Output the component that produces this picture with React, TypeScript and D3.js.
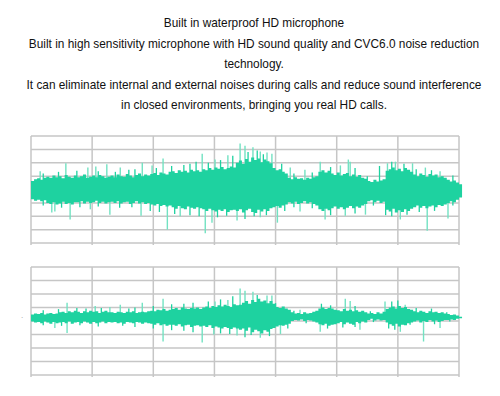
import React from 'react';
import * as d3 from 'd3';

const headline = [
  'Built in waterproof HD microphone',
  'Built in high sensitivity microphone with HD sound quality and CVC6.0 noise reduction',
  'technology.',
  'It can eliminate internal and external noises during calls and reduce sound interference',
  'in closed environments, bringing you real HD calls.',
];

// time axis: 7 grid columns, envelope bins of 0.05 column
const columns = [0, 1, 2, 3, 4, 5, 6, 7];
const levels = [-100, -75, -50, -25, 0, 25, 50, 75, 100];
const BIN = 0.05;

// top plot (before noise reduction) – dense core envelope, % of half height
const rawUpper = [
  16, 19, 21, 18, 22,
  24, 22, 26, 23, 25, 21, 27, 24, 22, 26,
  23, 25, 28, 22, 24, 26, 23, 27, 25, 22, 24,
  26, 23, 28, 25, 24, 29, 26, 23, 27, 30, 25, 28, 26,
  29, 31, 27, 32, 30, 28, 33,
  34, 31, 36, 33, 35, 32, 37, 34, 36, 33,
  38, 36, 40, 37, 41, 39, 42, 38, 40, 43, 41,
  50, 54, 48, 57, 52, 60, 55, 58, 51, 56, 53, 49,
  40, 36, 38, 33, 30,
  22, 19, 23, 20, 21, 18, 22, 20, 23, 25,
  33, 36, 32, 35,
  30, 27, 32, 26, 29, 31, 25, 28, 24, 27, 22, 20,
  16, 14, 18, 15, 17, 19,
  35, 38, 41, 36, 39, 34, 40, 37, 33,
  28, 25, 30, 27, 24, 29, 26, 28, 23, 25, 22,
  18, 15, 17, 13, 10,
];
const rawLower = [
  18, 21, 19, 22, 20,
  25, 27, 24, 28, 26, 23, 27, 25, 28, 24,
  24, 22, 26, 23, 25, 24, 21, 25, 23, 26, 24,
  23, 25, 22, 26, 24, 23, 27, 25, 22, 26, 24, 27, 25,
  28, 30, 27, 31, 29, 32, 30,
  33, 36, 31, 35, 37, 32, 34, 36, 33, 35,
  37, 40, 36, 39, 41, 38, 40, 37, 42, 39, 38,
  40, 37, 43, 39, 36, 42, 44, 38, 41, 37, 40, 35,
  33, 31, 34, 30, 28,
  24, 26, 23, 27, 25, 22, 26, 24, 27, 30,
  37, 40, 36, 39,
  35, 32, 36, 33, 37, 34, 31, 35, 32, 34, 30, 27,
  22, 20, 24, 21, 25, 23,
  38, 41, 36, 43, 39, 42, 37, 40, 36,
  33, 30, 34, 31, 35, 32, 30, 33, 29, 31, 28,
  25, 22, 24, 19, 15,
];
// [time, peak] tall outlier strokes
const rawSpikes: [number, number][] = [
  [0.15, 34], [0.57, 49], [0.93, 41], [1.06, 43], [1.24, 47], [1.46, 41], [1.82, 50],
  [1.98, 45], [2.16, 58], [2.8, 67], [3.01, 56], [3.22, 64], [3.42, 86], [3.5, 82],
  [3.63, 79], [3.75, 71], [3.86, 69], [3.94, 67], [4.24, 41], [4.48, 37], [4.73, 52],
  [5.06, 45], [5.19, 56], [5.22, 52], [5.83, 49], [5.96, 52], [6.24, 49], [6.45, 41],
  [6.69, 34],
  [0.34, -43], [0.39, -41], [0.64, -56], [0.97, -37], [1.29, -47], [1.8, -49],
  [2.23, -75], [2.44, -50], [2.85, -82], [2.96, -62], [3.37, -58], [3.75, -52],
  [4.03, -62], [4.4, -41], [4.81, -56], [5.14, -49], [5.47, -47], [6.04, -56],
  [6.48, -77], [6.82, -54],
];
// short strokes just past the core edge
const rawFringe: [number, number][] = [
  [0.2, 30], [0.45, 33], [0.75, 35], [1.1, 34], [1.38, 33], [1.6, 37], [1.7, 38],
  [2.05, 40], [2.3, 44], [2.5, 46], [2.6, 48], [2.7, 52], [2.9, 50], [3.1, 55],
  [3.3, 63], [3.55, 70], [3.7, 73], [3.8, 66], [4.1, 48], [4.3, 30], [4.6, 32],
  [4.9, 42], [5.3, 40], [5.5, 25], [5.7, 44], [5.9, 52], [6.1, 48], [6.3, 38],
  [6.55, 36], [6.9, 26],
  [0.2, -30], [0.5, -34], [0.8, -33], [1.1, -32], [1.45, -34], [1.65, -33],
  [1.95, -40], [2.1, -42], [2.35, -46], [2.6, -48], [2.75, -50], [3.05, -52],
  [3.2, -49], [3.5, -55], [3.65, -50], [3.85, -48], [4.15, -40], [4.3, -33],
  [4.6, -35], [4.9, -48], [5.3, -45], [5.6, -30], [5.8, -48], [5.9, -50],
  [6.15, -47], [6.35, -42], [6.6, -40], [6.9, -30],
];

// bottom plot (after noise reduction)
const cleanBase = 6;
const cleanUpper = [
  6, 8, 7, 9, 6, 8, 9, 7, 8, 10,
  11, 9, 12, 10, 13, 11, 9, 12, 10, 13, 11, 12, 9, 11, 13, 10,
  10, 9, 11, 10, 9, 11, 10, 12, 9, 10, 11, 10, 12,
  13, 12, 15, 14, 16, 13, 15,
  16, 18, 15, 19, 17, 16, 18, 17, 19, 16,
  19, 21, 18, 22, 20, 23, 21, 24, 22, 20, 25, 23, 24,
  28, 31, 26, 33, 29, 35, 30, 32, 27, 31, 26,
  20, 18, 21, 17, 15,
  10, 8, 9, 7, 10, 8, 9, 11, 13,
  17, 19, 16, 18, 17, 15,
  14, 12, 16, 13, 15, 12, 14, 11, 13, 10,
  8, 9, 7, 10, 8, 11,
  16, 19, 21, 17, 22, 18, 20, 16, 15,
  12, 10, 13, 11, 9, 12, 10, 11, 9, 10, 8,
  7, 5, 6, 4, 2,
];
const cleanLower = [
  7, 9, 8, 10, 7, 9, 11, 8, 10, 9,
  8, 10, 7, 11, 9, 8, 10, 7, 9, 11, 8, 10, 9, 7, 10, 8,
  9, 8, 10, 9, 11, 8, 9, 10, 8, 9, 11, 9, 10,
  11, 13, 10, 14, 12, 15, 13,
  13, 15, 12, 16, 14, 13, 17, 15, 14, 16,
  15, 17, 14, 19, 16, 18, 20, 17, 19, 21, 18, 20, 22,
  20, 24, 18, 27, 22, 25, 29, 23, 26, 21, 19,
  16, 14, 15, 13, 11,
  6, 4, 5, 3, 6, 4, 5, 7, 9,
  12, 14, 11, 15, 13, 12,
  10, 8, 12, 9, 11, 13, 8, 10, 7, 9,
  4, 2, 5, 3, 5, 4,
  9, 12, 15, 11, 16, 13, 14, 10, 9,
  7, 5, 9, 6, 8, 4, 7, 5, 8, 6, 4,
  4, 3, 4, 2, 1,
];
const cleanSpikes: [number, number][] = [
  [0.59, 28], [1.05, 22], [1.29, 20], [1.46, 24], [1.82, 28], [2.16, 35], [3.01, 30],
  [3.22, 33], [3.42, 54], [3.5, 50], [3.63, 48], [3.86, 41], [3.94, 41], [4.4, 15],
  [5.14, 35], [5.22, 31], [5.79, 30], [6.12, 24],
  [0.39, -19], [0.59, -28], [2.16, -44], [2.8, -46], [2.99, -31], [3.37, -33],
  [3.75, -37], [4.08, -30], [4.73, -26], [5.38, -22], [6.04, -26], [6.42, -44],
  [6.69, -19],
];
const cleanFringe: [number, number][] = [
  [0.2, 14], [0.45, 16], [0.75, 18], [0.9, 17], [1.15, 18], [1.6, 17], [1.7, 19],
  [2.0, 22], [2.3, 25], [2.5, 26], [2.65, 28], [2.9, 30], [3.1, 34], [3.3, 40],
  [3.7, 42], [4.0, 27], [4.3, 13], [4.75, 26], [4.9, 23], [5.3, 22], [5.55, 12],
  [5.9, 30], [6.0, 32], [6.3, 18], [6.55, 17], [6.8, 10],
  [0.2, -14], [0.5, -15], [0.8, -14], [1.1, -16], [1.5, -15], [1.7, -17], [2.0, -20],
  [2.3, -23], [2.5, -24], [2.65, -27], [3.1, -29], [3.25, -30], [3.5, -36], [3.6, -32],
  [3.9, -34], [4.2, -20], [4.5, -10], [4.85, -20], [5.1, -18], [5.3, -17], [5.6, -8],
  [5.85, -20], [5.95, -22], [6.2, -13], [6.6, -12], [6.85, -7],
];

const CORE = '#1ed2a0';
const SPIKE = '#72e2c2';
const GRID = '#c6c6c6';

type Bin = { t: number; hi: number; lo: number };

const Wave: React.FC<{
  top: number;
  bottom: number;
  base: number;
  upper: number[];
  lower: number[];
  spikes: [number, number][];
  fringe: [number, number][];
}> = ({ top, bottom, base, upper, lower, spikes, fringe }) => {
  const x = d3.scaleLinear().domain([0, 7]).range([31, 459]);
  const y = d3.scaleLinear().domain([-100, 100]).range([bottom, top]);

  const bins: Bin[] = upper.map((u, i) => ({ t: i * BIN, hi: base + u, lo: base - lower[i] }));
  bins.push({ ...bins[bins.length - 1], t: bins.length * BIN });

  const area = d3
    .area<Bin>()
    .x((d) => x(d.t))
    .y0((d) => y(d.lo))
    .y1((d) => y(d.hi))
    .curve(d3.curveStepAfter);

  return (
    <g>
      {levels.map((l) => (
        <line key={'h' + l} x1={x(0)} x2={x(7)} y1={y(l)} y2={y(l)} stroke={GRID} strokeWidth={1.5} />
      ))}
      {columns.map((c) => (
        <line key={'v' + c} x1={x(c)} x2={x(c)} y1={y(100)} y2={y(-100) + 2} stroke={GRID} strokeWidth={1.5} />
      ))}
      {spikes.map(([t, v], i) => (
        <line key={'s' + i} x1={x(t)} x2={x(t)} y1={y(base)} y2={y(base + v)} stroke={SPIKE} strokeWidth={1.4} />
      ))}
      {fringe.map(([t, v], i) => (
        <line key={'f' + i} x1={x(t)} x2={x(t)} y1={y(base)} y2={y(base + v)} stroke={CORE} strokeWidth={1.3} />
      ))}
      <path d={area(bins) || ''} fill={CORE} />
    </g>
  );
};

export default function App() {
  return (
    <svg
      width={500}
      height={396}
      viewBox="0 0 500 396"
      style={{ position: 'absolute', left: 0, top: 0, background: '#fff' }}
      fontFamily="'Liberation Sans', Arial, sans-serif"
    >
      <rect width={500} height={396} fill="#fff" />
      {headline.map((line, i) => (
        <text key={i} x={254} y={27 + i * 20.5} textAnchor="middle" fontSize={11.85} fill="#111">
          {line}
        </text>
      ))}
      <Wave top={136} bottom={243} base={0} upper={rawUpper} lower={rawLower} spikes={rawSpikes} fringe={rawFringe} />
      <Wave top={267} bottom={375} base={cleanBase} upper={cleanUpper} lower={cleanLower} spikes={cleanSpikes} fringe={cleanFringe} />
      <text x={21} y={318} fontSize={8} fill="#999">.</text>
    </svg>
  );
}
